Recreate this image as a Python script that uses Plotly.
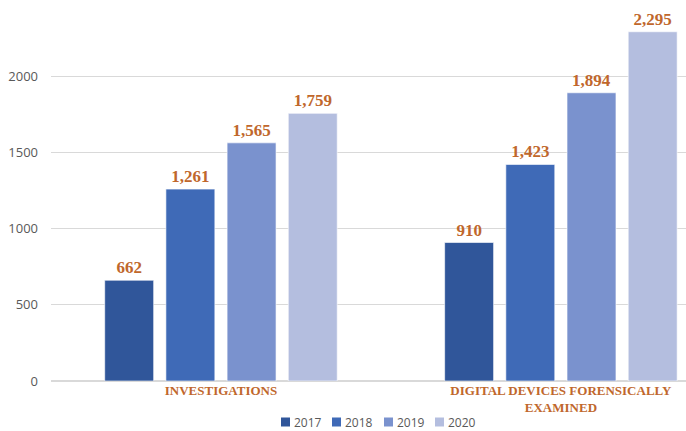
import plotly.graph_objects as go

categories = ["INVESTIGATIONS", "DIGITAL DEVICES FORENSICALLY<br>EXAMINED"]
years = ["2017", "2018", "2019", "2020"]
values_2017 = [662, 910]
values_2018 = [1261, 1423]
values_2019 = [1565, 1894]
values_2020 = [1759, 2295]
series = [values_2017, values_2018, values_2019, values_2020]
colors = ["#30569A", "#3F6AB7", "#7A92CE", "#B4BEDF"]
tick_vals = [0, 500, 1000, 1500, 2000]

label_color = "#C0672C"

fig = go.Figure()
for yr, vals, col in zip(years, series, colors):
    fig.add_trace(go.Bar(
        name=yr, x=categories, y=vals,
        marker=dict(color=col, line=dict(color="rgba(255,255,255,0.6)", width=1)),
        text=[f"{v:,}" for v in vals], textposition="outside",
        textfont=dict(family="Liberation Serif, serif", size=17, color=label_color, weight="bold"),
        cliponaxis=False, showlegend=False,
    ))

# custom compact legend: squares (shapes) + text (annotations), in paper coords
plot_w, plot_h = 635.0, 350.0
legend_px = [281, 332, 384, 435]
ly = -41 / plot_h
sq_w, sq_h = 9 / plot_w, 9 / plot_h
for yr, col, px in zip(years, colors, legend_px):
    x0 = (px - 51) / plot_w
    fig.add_shape(type="rect", xref="paper", yref="paper",
                  x0=x0, x1=x0 + sq_w, y0=ly - sq_h / 2, y1=ly + sq_h / 2,
                  fillcolor=col, line=dict(width=0))
    fig.add_annotation(
        xref="paper", yref="paper", x=x0 + 12 / plot_w, y=ly, xanchor="left", yanchor="middle",
        text=yr, showarrow=False, borderpad=0,
        font=dict(family="Open Sans, sans-serif", size=12, color="#595959"),
    )

fig.update_layout(
    width=686, height=431,
    margin=dict(l=51, r=0, t=31, b=50),
    paper_bgcolor="white", plot_bgcolor="white",
    barmode="group", bargap=0.28, bargroupgap=0.2,
    showlegend=False,
    xaxis=dict(range=[-0.5, 1.368], showgrid=False, ticks="", showline=False, automargin=False,
               tickfont=dict(family="Liberation Serif, serif", size=13, color=label_color, weight="bold"),
               tickangle=0),
    yaxis=dict(range=[0, 2300], tickvals=tick_vals, showgrid=True, gridcolor="#D9D9D9",
               gridwidth=1, zeroline=True, zerolinecolor="#D9D9D9", showline=False, ticks="",
               ticklabelstandoff=12, automargin=False,
               tickfont=dict(family="Open Sans, sans-serif", size=13, color="#595959")),
)

fig.write_html("out.html", config={"displayModeBar": False},
               post_script="document.body.style.margin='0';")
